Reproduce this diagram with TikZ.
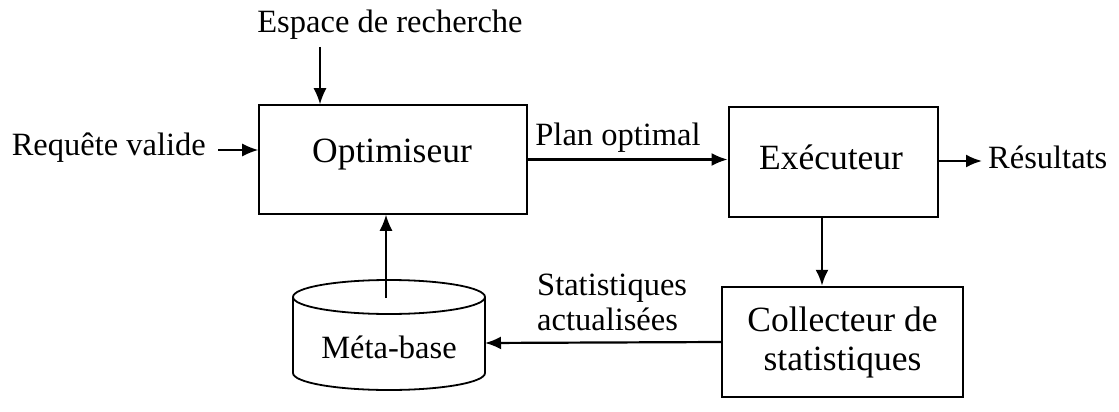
\documentclass[tikz,border=0pt]{standalone}
\usepackage{fontspec}
\setmainfont{Liberation Serif}
\usetikzlibrary{arrows.meta}
\begin{document}
\begin{tikzpicture}[x=1pt,y=-1pt,
  boxtext/.style={font=\fontsize{35.5}{42}\selectfont},
  labeltext/.style={font=\fontsize{32.5}{39}\selectfont, inner sep=0pt},
  procbox/.style={draw, boxtext, inner sep=0pt, align=center},
  flow/.style={-{Latex[length=16pt,width=13pt]}, line width=2.2pt},
  thinflow/.style={-{Latex[length=16pt,width=13pt]}, line width=1.5pt}]
\useasboundingbox (0,0) rectangle (1119,412);
\fill[white] (0,0) rectangle (1119,412);

% boxes
\node[procbox, line width=1.6pt, minimum width=268pt, minimum height=109pt] (opt) at (393,159.5) {};
\node[boxtext] (opttxt) at (392,155) {Optimiseur};
\node[procbox, line width=2.8pt, minimum width=209pt, minimum height=110pt] (exec) at (833.5,162) {};
\node[boxtext] (exectxt) at (831,157) {Exécuteur};
\node[procbox, line width=2.2pt, minimum width=241pt, minimum height=110pt] (coll) at (842.5,342) {Collecteur de\\[-3pt]statistiques};

% cylinder (Méta-base)
\draw[line width=1.8pt] (293,297) -- (293,373) arc[start angle=180, end angle=0, x radius=96, y radius=17] -- (485,297);
\draw[line width=1.8pt] (389,297) ellipse[x radius=96, y radius=17];
\node[labeltext] (mb) at (389,347) {Méta-base};
\coordinate (mbtop) at (386,298);
\coordinate (mbright) at (485,343);

% labels
\node[labeltext] (esp) at (390,25) {Espace de recherche};
\node[labeltext, anchor=east] (req) at (206,148) {Requête valide};
\node[labeltext] (plan) at (618,138) {Plan optimal};
\node[labeltext, anchor=west] (res) at (988,157) {Résultats};
\node[labeltext, anchor=west, align=left] (stat) at (537,302) {Statistiques\\[-4pt]actualisées};

% connector helpers
\coordinate (espstart) at (320,47);
\coordinate (reqstart) at (218,150);
\coordinate (collx) at (822,0);
\coordinate (resend) at (982,161);

% connectors
\draw[thinflow] (espstart) -- (espstart |- opt.north);
\draw[thinflow] (reqstart) -- (reqstart -| opt.west);
\draw[flow] (opt.east) -- (opt.east -| exec.west);
\draw[flow] (exec.east |- resend) -- (resend);
\draw[flow, line width=2.8pt] (exec.south -| collx) -- (coll.north -| collx);
\draw[flow] (coll.west) -- (mbright);
\draw[thinflow] (mbtop) -- (mbtop |- opt.south);
\end{tikzpicture}
\end{document}
